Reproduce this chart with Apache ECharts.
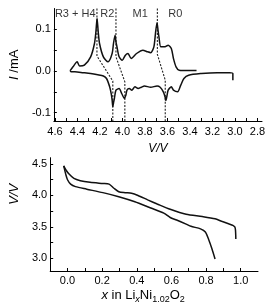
<!DOCTYPE html>
<html><head><meta charset="utf-8">
<script src="https://cdn.jsdelivr.net/npm/echarts@6/dist/echarts.min.js"></script>
<style>html,body{margin:0;padding:0;background:#fff}#c{width:270px;height:307px}</style>
</head><body><div id="c"></div>
<script>
// ---- Top panel: cyclic voltammogram ----
const cvAnodicV = [4.465,4.440,4.403,4.381,4.339,4.283,4.249,4.236,4.226,4.216,4.204,4.170,4.128,4.092,4.080,4.066,4.058,4.049,4.030,4.002,3.974,3.951,3.923,3.875,3.819,3.777,3.749,3.721,3.707,3.693,3.683,3.676,3.659,3.622,3.594,3.566,3.547,3.524,3.496,3.412,3.342];
const cvAnodicI = [0.001,0.010,0.022,0.012,0.014,0.034,0.066,0.095,0.126,0.095,0.066,0.034,0.022,0.042,0.066,0.086,0.070,0.058,0.034,0.026,0.038,0.042,0.030,0.042,0.050,0.046,0.044,0.058,0.090,0.116,0.095,0.082,0.058,0.058,0.062,0.054,0.030,0.010,0.002,0.001,0.001];
const cvCathodicV = [4.465,4.458,4.423,4.350,4.283,4.220,4.170,4.142,4.114,4.100,4.092,4.086,4.079,4.072,4.058,4.030,4.007,3.982,3.970,3.960,3.940,3.917,3.889,3.861,3.833,3.805,3.749,3.693,3.665,3.637,3.622,3.614,3.605,3.594,3.566,3.547,3.510,3.482,3.454,3.412,3.299,3.159,3.047,3.019,3.019];
const cvCathodicI = [0.001,-0.002,-0.002,-0.004,-0.006,-0.009,-0.012,-0.018,-0.038,-0.055,-0.070,-0.086,-0.075,-0.066,-0.046,-0.042,-0.054,-0.066,-0.058,-0.046,-0.042,-0.046,-0.038,-0.042,-0.039,-0.036,-0.039,-0.036,-0.039,-0.050,-0.062,-0.071,-0.060,-0.046,-0.038,-0.046,-0.050,-0.034,-0.018,-0.010,-0.006,-0.004,-0.004,-0.006,-0.022];
const guideA = [[4.227,0.15],[4.227,0.036],[4.086,-0.024],[4.086,-0.12]];
const guideB = [[4.058,0.15],[4.058,0.034],[3.979,-0.026],[3.979,-0.12]];
const guideC = [[3.690,0.15],[3.690,0.040],[3.620,-0.022],[3.620,-0.12]];
const phaseNames = ['R3 + H4','R2','M1','R0'];
const phaseV = [4.42,4.135,3.842,3.530];
const phaseI = 0.137;
const cvTickLabelsV = [4.6,4.4,4.2,4.0,3.8,3.6,3.4,3.2,3.0,2.8];
const cvTicksV = [4.6,4.5,4.4,4.3,4.2,4.1,4.0,3.9,3.8,3.7,3.6,3.5,3.4,3.3,3.2,3.1,3.0,2.9,2.8];
const cvTickLabelsI = [-0.1,0.0,0.1];
const cvTicksI = [-0.1,-0.05,0.0,0.05,0.1];

// ---- Bottom panel: voltage vs x in LixNi1.02O2 ----
const chargeX = [0.972,0.970,0.966,0.955,0.930,0.890,0.852,0.778,0.685,0.593,0.518,0.463,0.407,0.370,0.333,0.296,0.268,0.240,0.204,0.130,0.074,0.037,0.009,-0.009,-0.022];
const chargeV = [3.31,3.45,3.50,3.525,3.55,3.59,3.63,3.665,3.70,3.78,3.865,3.93,4.00,4.035,4.045,4.06,4.115,4.18,4.19,4.21,4.235,4.27,4.34,4.405,4.47];
const dischargeX = [-0.022,-0.009,0.000,0.018,0.046,0.111,0.204,0.296,0.389,0.481,0.556,0.593,0.630,0.685,0.713,0.768,0.796,0.815,0.833,0.852];
const dischargeV = [4.47,4.325,4.25,4.18,4.14,4.10,4.045,3.98,3.90,3.80,3.72,3.65,3.61,3.545,3.51,3.47,3.42,3.30,3.16,2.99];
const xTickLabels = [0.0,0.2,0.4,0.6,0.8,1.0];
const xTicks = [0.0,0.1,0.2,0.3,0.4,0.5,0.6,0.7,0.8,0.9,1.0];
const vTickLabels = [3.0,3.5,4.0,4.5];
const vTicks = [3.0,3.25,3.5,3.75,4.0,4.25,4.5];

const zip = (a, b) => a.map((v, i) => [v, b[i]]);
const K = '#000';
const FF = '"Liberation Sans", Arial, sans-serif';
const fmt1 = v => Number(v).toFixed(1);

function axis(extra) {
  const base = {
    type: 'value',
    splitLine: { show: false },
    axisLine: { onZero: false, lineStyle: { color: K, width: 1 } },
    axisTick: { inside: true, length: 3, lineStyle: { color: K, width: 1 } },
    axisLabel: { color: K, fontSize: 11, fontFamily: FF, formatter: fmt1 },
    nameTextStyle: { color: K, fontFamily: FF }
  };
  for (const k in extra) {
    if (typeof extra[k] === 'object' && !Array.isArray(extra[k]) && base[k]) base[k] = Object.assign({}, base[k], extra[k]);
    else base[k] = extra[k];
  }
  return base;
}

const chart = echarts.init(document.getElementById('c'));
const lineS = (data, xi, w) => ({
  type: 'line', data, xAxisIndex: xi, yAxisIndex: xi, showSymbol: false, symbol: 'none',
  smooth: 0.25, lineStyle: { color: '#111', width: w || 1.5 }, silent: true, z: 3
});
const guideS = data => ({
  type: 'line', data, xAxisIndex: 0, yAxisIndex: 0, symbol: 'none', smooth: false,
  lineStyle: { color: '#222', width: 1.1, type: [2, 1.5] }, silent: true, z: 2
});

chart.setOption({
  animation: false,
  backgroundColor: '#fff',
  grid: [
    { left: 43, top: 8.5, width: 219, height: 112.5 },
    { left: 42, top: 157.7, width: 216, height: 113.3 }
  ],
  xAxis: [
    axis({ gridIndex: 0, min: 2.76, max: 4.61, inverse: true,
      axisTick: { customValues: cvTicksV },
      axisLabel: { customValues: cvTickLabelsV, margin: 5 },
      name: 'V/V', nameLocation: 'middle', nameGap: 22,
      nameTextStyle: { fontStyle: 'italic', fontSize: 12 } }),
    axis({ gridIndex: 1, min: -0.1, max: 1.1,
      axisTick: { customValues: xTicks },
      axisLabel: { customValues: xTickLabels, margin: 4 },
      name: '{i|x} in Li{si|x}Ni{s|1.02}O{s|2}', nameLocation: 'middle', nameGap: 16,
      nameTextStyle: { fontSize: 13, padding: [0, 22, 0, 0], rich: {
        i: { fontStyle: 'italic', fontSize: 13, color: K, fontFamily: FF, lineHeight: 17 },
        si: { fontStyle: 'italic', fontSize: 9, color: K, fontFamily: FF, lineHeight: 9, verticalAlign: 'bottom' },
        s: { fontSize: 9, color: K, fontFamily: FF, lineHeight: 9, verticalAlign: 'bottom' }
      } } })
  ],
  yAxis: [
    axis({ gridIndex: 0, min: -0.12, max: 0.15,
      axisTick: { customValues: cvTicksI },
      axisLabel: { customValues: cvTickLabelsI, margin: 3 },
      name: '{i|I} /mA', nameLocation: 'middle', nameGap: 23, nameRotate: 90,
      nameTextStyle: { fontSize: 13, rich: { i: { fontStyle: 'italic', fontSize: 13, color: K, fontFamily: FF } } } }),
    axis({ gridIndex: 1, min: 2.8, max: 4.6,
      axisTick: { customValues: vTicks },
      axisLabel: { customValues: vTickLabels, margin: 3 },
      name: 'V/V', nameLocation: 'middle', nameGap: 25, nameRotate: 90,
      nameTextStyle: { fontStyle: 'italic', fontSize: 13, padding: [0, 0, 0, 40] } })
  ],
  series: [
    guideS(guideA), guideS(guideB), guideS(guideC),
    lineS(zip(cvAnodicV, cvAnodicI), 0),
    lineS(zip(cvCathodicV, cvCathodicI), 0),
    {
      type: 'scatter', xAxisIndex: 0, yAxisIndex: 0, symbolSize: 1,
      itemStyle: { color: 'rgba(0,0,0,0)' }, silent: true,
      data: phaseNames.map((n, i) => ({ name: n, value: [phaseV[i], phaseI] })),
      label: { show: true, position: 'inside', formatter: p => p.name, color: K, fontSize: 11, fontFamily: FF }
    },
    lineS(zip(chargeX, chargeV), 1),
    lineS(zip(dischargeX, dischargeV), 1)
  ]
});
</script></body></html>
